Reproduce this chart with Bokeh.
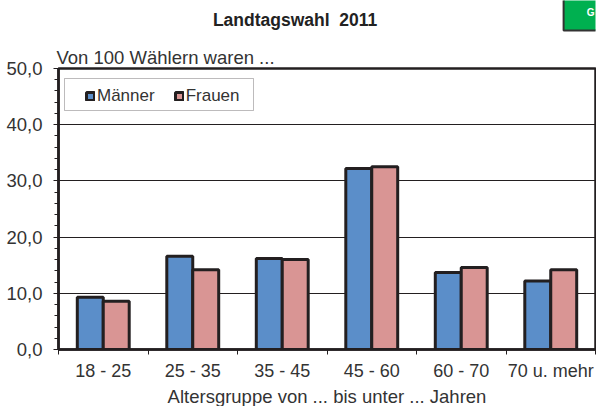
from bokeh.plotting import figure
from bokeh.layouts import column
from bokeh.models import ColumnDataSource, FixedTicker, Range1d, Label, Legend, LegendItem, BoxAnnotation, Title
from bokeh.embed import file_html
from bokeh.resources import INLINE

categories = ["18 - 25", "25 - 35", "35 - 45", "45 - 60", "60 - 70", "70 u. mehr"]
maenner = [9.3, 16.6, 16.2, 32.2, 13.7, 12.2]
frauen = [8.6, 14.2, 16.0, 32.5, 14.6, 14.2]
y_ticks = [0, 10, 20, 30, 40, 50]
y_minor = [v * 2 for v in range(26)]
title_text = "Landtagswahl\u00a0\u00a02011"
subtitle = "Von 100 Wählern waren ..."
x_title = "Altersgruppe von ... bis unter ... Jahren"

FONT = "Liberation Sans"
INK = "#231f20"
TXT = "#333333"
BLUE = "#5b8ec9"
PINK = "#d99594"
W = 0.29
TOP_H = 36
FL, FB = 58, 349  # frame left / bottom in page pixels

# header strip: title and green badge
head = figure(width=596, height=TOP_H, output_backend="svg", toolbar_location=None,
              x_range=Range1d(0, 596), y_range=Range1d(TOP_H, 0),
              min_border=0, min_border_left=0, min_border_right=0, min_border_top=0, min_border_bottom=0,
              outline_line_color=None, background_fill_color="white", border_fill_color="white")
head.axis.visible = False
head.grid.visible = False
head.quad(left=[560.6], right=[604], top=[-4], bottom=[30], fill_color="#00b050", line_color="#333333", line_width=2)
head.add_layout(Label(x=595, y=12, text="G", text_align="right", text_baseline="middle", text_color="white",
                      text_font=FONT, text_font_size="10px", text_font_style="bold"))
head.add_layout(Label(x=262.6, y=19, text=title_text, text_align="center", text_baseline="middle",
                      text_font=FONT, text_font_size="17.5px", text_font_style="bold", text_color="#222222"))

p = figure(width=596, height=406 - TOP_H + 3, output_backend="svg", toolbar_location=None,
           x_range=Range1d(0, 6), y_range=Range1d(0, 50),
           min_border_left=58, min_border_right=1, min_border_top=68 - TOP_H, min_border_bottom=57,
           background_fill_color="white", border_fill_color="white")

p.add_layout(Title(text=subtitle, align="left", offset=-2, standoff=2, text_font=FONT, text_font_size="18.5px",
                   text_font_style="normal", text_color=TXT), "above")

xs = [i + 0.5 for i in range(len(categories))]
src = ColumnDataSource(dict(xm=[x - W / 2 for x in xs], xf=[x + W / 2 for x in xs], m=maenner, f=frauen))

p.xgrid.visible = False
p.ygrid.ticker = FixedTicker(ticks=y_ticks[1:-1])
p.ygrid.grid_line_color = INK
p.ygrid.grid_line_width = 1

r1 = p.vbar(x="xm", top="m", width=W, source=src, fill_color=BLUE, line_color=INK, line_width=3)
r2 = p.vbar(x="xf", top="f", width=W, source=src, fill_color=PINK, line_color=INK, line_width=3)

p.outline_line_color = INK
p.outline_line_width = 2.5

p.xaxis.ticker = FixedTicker(ticks=xs, minor_ticks=list(range(7)))
p.xaxis.major_label_overrides = {x: c for x, c in zip(xs, categories)}
p.xaxis.major_tick_in = 0
p.xaxis.major_tick_out = 0
p.xaxis.minor_tick_in = 0
p.xaxis.minor_tick_out = 5
p.xaxis.minor_tick_line_color = INK
p.xaxis.axis_line_color = INK
p.xaxis.axis_line_width = 2.5
p.xaxis.major_label_standoff = 6
p.xaxis.major_label_text_font = FONT
p.xaxis.major_label_text_font_size = "18px"
p.xaxis.major_label_text_color = TXT
p.xaxis.axis_label = x_title
p.xaxis.axis_label_text_font = FONT
p.xaxis.axis_label_text_font_size = "18.5px"
p.xaxis.axis_label_text_font_style = "normal"
p.xaxis.axis_label_text_color = TXT
p.xaxis.axis_label_standoff = 2

p.yaxis.ticker = FixedTicker(ticks=y_ticks, minor_ticks=y_minor)
p.yaxis.major_label_overrides = {v: f"{v},0" for v in y_ticks}
p.yaxis.major_tick_in = 0
p.yaxis.major_tick_out = 5
p.yaxis.minor_tick_in = 0
p.yaxis.minor_tick_out = 4
p.yaxis.major_tick_line_color = INK
p.yaxis.minor_tick_line_color = INK
p.yaxis.axis_line_color = INK
p.yaxis.axis_line_width = 2.5
p.yaxis.major_label_standoff = 11
p.yaxis.major_label_text_font = FONT
p.yaxis.major_label_text_font_size = "18.5px"
p.yaxis.major_label_text_color = TXT

p.add_layout(BoxAnnotation(left=64 - FL, right=253 - FL, top=FB - 78, bottom=FB - 110,
                           left_units="screen", right_units="screen", top_units="screen", bottom_units="screen",
                           fill_color="white", fill_alpha=1, line_color=INK, line_width=1))

legend = Legend(items=[LegendItem(label="Männer", renderers=[r1]), LegendItem(label="Frauen", renderers=[r2])],
                orientation="horizontal", location=(85 - FL, FB - 110 + 4),
                border_line_alpha=0, background_fill_alpha=0,
                label_text_font=FONT, label_text_font_size="17px", label_text_color=TXT,
                glyph_width=10, glyph_height=10, spacing=19, padding=0, margin=0,
                label_standoff=2)
p.add_layout(legend, "center")

open("out.html", "w").write(file_html(column(head, p, spacing=0), INLINE))
